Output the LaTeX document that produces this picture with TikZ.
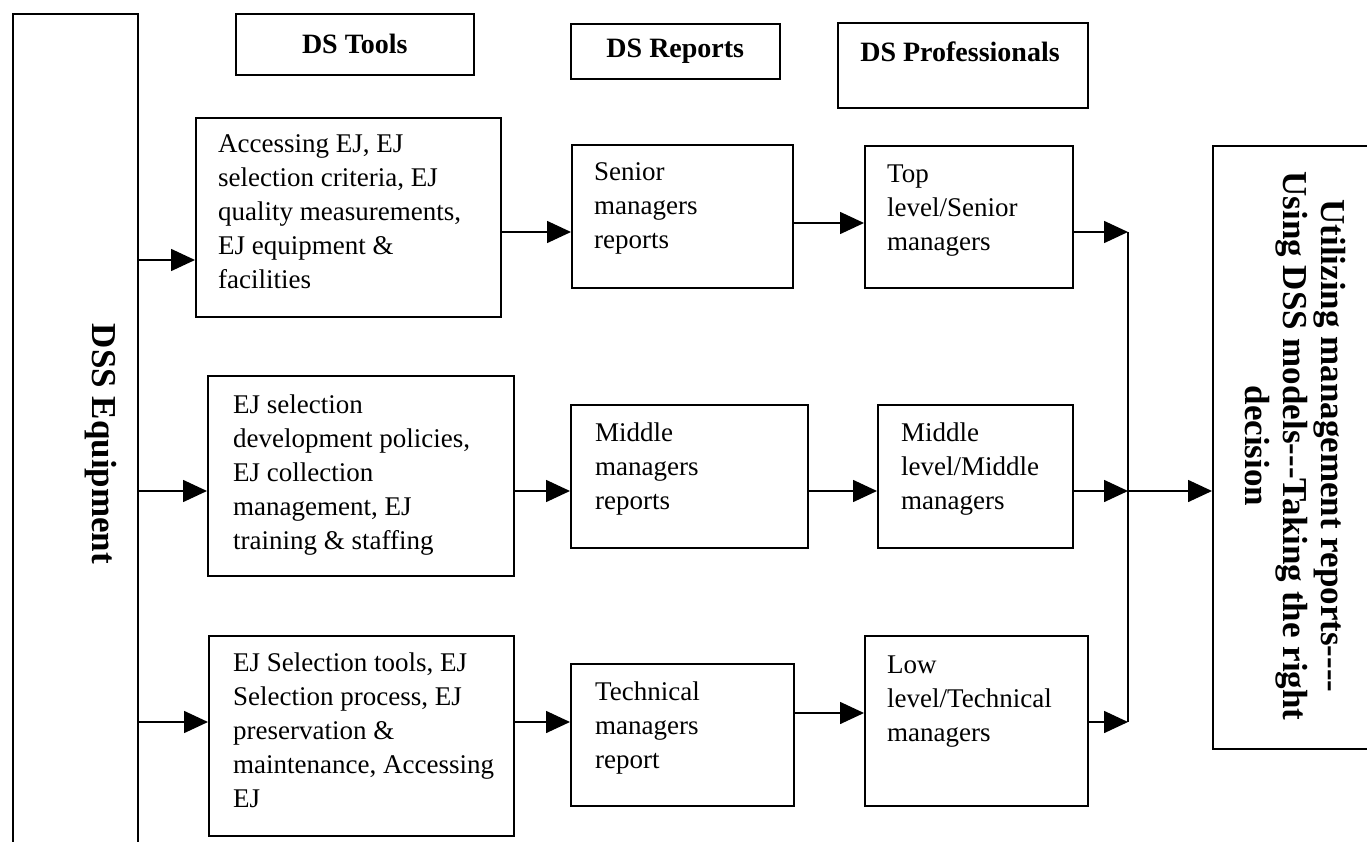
\documentclass[tikz,border=0pt]{standalone}
\usepackage{fontspec}
\setmainfont{Liberation Serif}
\usetikzlibrary{arrows.meta}
\newcommand\bodyfont{\fontsize{27}{34}\selectfont}
\newcommand\headfont{\fontsize{28}{32}\selectfont\bfseries}
\newcommand\dssfont{\fontsize{35}{38}\selectfont\bfseries}
\newcommand\outfont{\fontsize{35}{38}\selectfont\bfseries}
\begin{document}
\begin{tikzpicture}[x=1pt,y=-1pt,
  box/.style={draw, line width=1.6pt, anchor=north west, inner sep=0pt},
  txt/.style={anchor=north west, inner sep=0pt, align=left, font=\bodyfont},
  conn/.style={line width=1.6pt, -{Triangle[length=24pt,width=22pt]}},
  plainline/.style={line width=1.6pt}]
\useasboundingbox (0,0) rectangle (1367,842);
\clip (0,0) rectangle (1367,842);
% left column
\node[box, minimum width=125pt, minimum height=860pt] (dss) at (12,13) {};
\node[rotate=-90, font=\dssfont, inner sep=0pt] (dsstxt) at (101,444) {DSS Equipment};
% headers
\node[box, minimum width=238pt, minimum height=61pt, font=\headfont] (htools) at (235,13) {DS Tools};
\node[box, minimum width=209pt, minimum height=55pt, font=\headfont] (hrep) at (570,23) {DS Reports};
\node[box, minimum width=250pt, minimum height=85pt] (hprof) at (837,22) {};
\node[font=\headfont, inner sep=0pt] (hproftxt) at (960,52) {DS Professionals};
% tools
\node[box, minimum width=305pt, minimum height=199pt] (t1) at (195,117) {};
\node[txt] (t1txt) at (218,128) {\strut Accessing EJ, EJ\\selection criteria, EJ\\quality measurements,\\EJ equipment \&\\facilities};
\node[box, minimum width=306pt, minimum height=200pt] (t2) at (207,375) {};
\node[txt] (t2txt) at (233,389) {\strut EJ selection\\development policies,\\EJ collection\\management, EJ\\training \& staffing};
\node[box, minimum width=305pt, minimum height=200pt] (t3) at (208,635) {};
\node[txt] (t3txt) at (233,647) {\strut EJ Selection tools, EJ\\Selection process, EJ\\preservation \&\\maintenance, Accessing\\EJ};
% reports
\node[box, minimum width=221pt, minimum height=143pt] (r1) at (571,144) {};
\node[txt] (r1txt) at (594,157) {\strut Senior\\managers\\reports};
\node[box, minimum width=237pt, minimum height=143pt] (r2) at (570,404) {};
\node[txt] (r2txt) at (595,417) {\strut Middle\\managers\\reports};
\node[box, minimum width=223pt, minimum height=142pt] (r3) at (570,663) {};
\node[txt] (r3txt) at (595,676) {\strut Technical\\managers\\report};
% professionals
\node[box, minimum width=208pt, minimum height=142pt] (p1) at (864,145) {};
\node[txt] (p1txt) at (887,159) {\strut Top\\level/Senior\\managers};
\node[box, minimum width=195pt, minimum height=143pt] (p2) at (877,404) {};
\node[txt] (p2txt) at (901,417) {\strut Middle\\level/Middle\\managers};
\node[box, minimum width=223pt, minimum height=170pt] (p3) at (864,635) {};
\node[txt] (p3txt) at (887,649) {\strut Low\\level/Technical\\managers};
% output
\node[box, minimum width=220pt, minimum height=603pt] (out) at (1212,145) {};
\node[rotate=-90, font=\outfont, align=center, inner sep=0pt] (outtxt) at (1295,446)
  {Utilizing management reports-{}-{}-{}-\\Using DSS models-{}-{}-Taking the right\\decision};
% junction
\coordinate (jtop) at (1128,232);
\coordinate (jmid) at (1128,491);
\coordinate (jbot) at (1128,722);
% connectors
\draw[conn] (dss.east |- 0,260) -- (t1.west |- 0,260);
\draw[conn] (dss.east |- 0,491) -- (t2.west |- 0,491);
\draw[conn] (dss.east |- 0,722) -- (t3.west |- 0,722);
\draw[conn] (t1.east |- 0,232) -- (r1.west |- 0,232);
\draw[conn] (t2.east |- 0,491) -- (r2.west |- 0,491);
\draw[conn] (t3.east |- 0,722) -- (r3.west |- 0,722);
\draw[conn] (r1.east |- 0,223) -- (p1.west |- 0,223);
\draw[conn] (r2.east |- 0,491) -- (p2.west |- 0,491);
\draw[conn] (r3.east |- 0,713) -- (p3.west |- 0,713);
\draw[conn] (p1.east |- jtop) -- (jtop);
\draw[conn] (p2.east |- jmid) -- (jmid);
\draw[conn] (p3.east |- jbot) -- (jbot);
\draw[plainline] (jtop) -- (jbot);
\draw[conn] (jmid) -- (out.west |- jmid);
\end{tikzpicture}
\end{document}
